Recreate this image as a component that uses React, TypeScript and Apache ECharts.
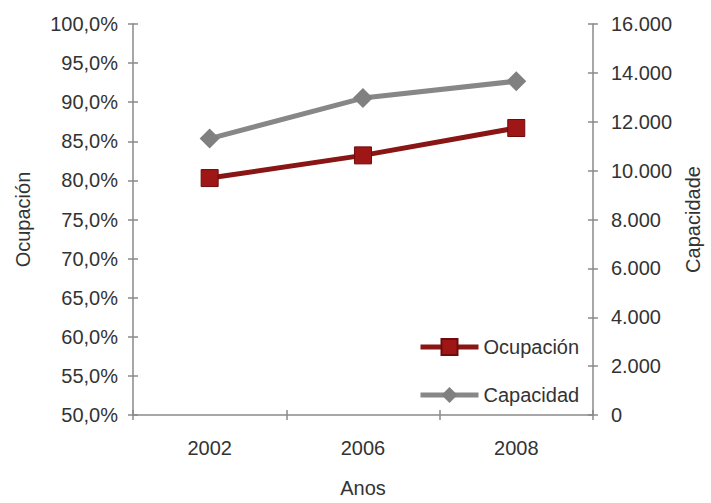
import React, { useEffect, useRef } from "react";
import * as echarts from "echarts";

const years = ["2002", "2006", "2008"];
const ocupacion = [80.3, 83.2, 86.7];
const capacidad = [11310, 12970, 13660];
const seriesNames = ["Ocupación", "Capacidad"];
const axisNames = { x: "Anos", left: "Ocupación", right: "Capacidade" };

const FONT = "Liberation Sans, Arial, sans-serif";
const TXT = "#333333";
const AX = "#8a8a8a";
const FS = 20;

export default function App() {
  const ref = useRef<HTMLDivElement>(null);
  useEffect(() => {
    document.body.style.margin = "0";
    const chart = echarts.init(ref.current!, null, { renderer: "svg" });
    const grid = { left: 133, right: 107, top: 24, bottom: 83 };
    const tickStyle = { color: AX, width: 1.5 };
    chart.setOption({
      animation: false,
      backgroundColor: "#ffffff",
      textStyle: { fontFamily: FONT },
      grid,
      legend: {
        orient: "vertical",
        left: 418,
        top: 337,
        padding: 0,
        itemWidth: 58,
        itemHeight: 20,
        itemGap: 28,
        textStyle: { fontSize: FS, color: TXT, fontFamily: FONT },
        data: [
          { name: seriesNames[0], lineStyle: { width: 5 } },
          { name: seriesNames[1], lineStyle: { width: 5 } },
        ],
      },
      xAxis: [
        {
          type: "category",
          data: years,
          boundaryGap: true,
          name: axisNames.x,
          nameLocation: "middle",
          nameGap: 63,
          nameTextStyle: { fontSize: FS, color: TXT },
          axisLine: { lineStyle: { color: AX, width: 1.5 } },
          axisTick: { show: true, length: 5, lineStyle: tickStyle },
          axisLabel: { fontSize: FS, color: TXT, margin: 23 },
        },
        {
          type: "category",
          data: years,
          position: "bottom",
          boundaryGap: true,
          axisLine: { show: false },
          axisTick: { show: true, inside: true, length: 5, lineStyle: tickStyle },
          axisLabel: { show: false },
        },
      ],
      yAxis: [
        {
          type: "value",
          min: 50,
          max: 100,
          interval: 5,
          position: "left",
          name: axisNames.left,
          nameLocation: "middle",
          nameGap: 100,
          nameRotate: 90,
          nameTextStyle: { fontSize: FS, color: TXT },
          splitLine: { show: false },
          axisLine: { show: true, lineStyle: { color: AX, width: 1.5 } },
          axisTick: { show: true, length: 5, lineStyle: tickStyle },
          axisLabel: {
            fontSize: FS,
            color: TXT,
            margin: 15,
            formatter: (v: number) => v.toFixed(1).replace(".", ",") + "%",
          },
        },
        {
          type: "value",
          min: 0,
          max: 16000,
          interval: 2000,
          position: "right",
          name: axisNames.right,
          nameLocation: "middle",
          nameGap: 89,
          nameRotate: 90,
          nameTextStyle: { fontSize: FS, color: TXT },
          splitLine: { show: false },
          axisLine: { show: true, lineStyle: { color: AX, width: 1.5 } },
          axisTick: { show: true, length: 5, lineStyle: tickStyle },
          axisLabel: {
            fontSize: FS,
            color: TXT,
            margin: 18,
            formatter: (v: number) =>
              v === 0 ? "0" : String(v).replace(/\B(?=(\d{3})+(?!\d))/g, "."),
          },
        },
        {
          type: "value",
          min: 50,
          max: 100,
          interval: 5,
          position: "left",
          splitLine: { show: false },
          axisLine: { show: false },
          axisTick: { show: true, inside: true, length: 5, lineStyle: tickStyle },
          axisLabel: { show: false },
        },
        {
          type: "value",
          min: 0,
          max: 16000,
          interval: 2000,
          position: "right",
          splitLine: { show: false },
          axisLine: { show: false },
          axisTick: { show: true, inside: true, length: 5, lineStyle: tickStyle },
          axisLabel: { show: false },
        },
      ],
      series: [
        {
          name: seriesNames[0],
          type: "line",
          xAxisIndex: 0,
          yAxisIndex: 0,
          data: ocupacion,
          symbol: "rect",
          symbolSize: 17,
          lineStyle: { color: "#8a1515", width: 5 },
          itemStyle: { color: "#9e1616", borderColor: "#6e0c0c", borderWidth: 1 },
        },
        {
          name: seriesNames[1],
          type: "line",
          xAxisIndex: 0,
          yAxisIndex: 1,
          data: capacidad,
          symbol: "diamond",
          symbolSize: 20,
          lineStyle: { color: "#878787", width: 5 },
          itemStyle: { color: "#808080" },
        },
      ],
    });
    return () => chart.dispose();
  }, []);
  return (
    <div
      ref={ref}
      style={{ position: "fixed", left: 0, top: 0, width: 711, height: 503 }}
    />
  );
}
